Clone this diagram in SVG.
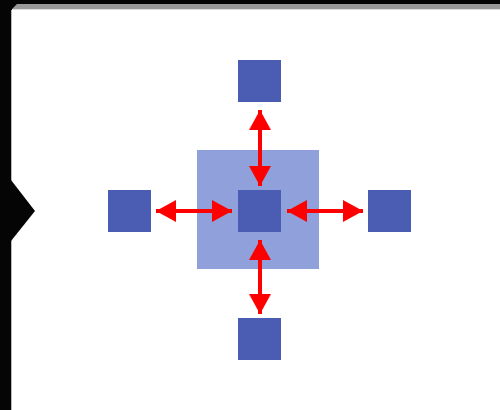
<svg xmlns="http://www.w3.org/2000/svg" width="500" height="410" viewBox="0 0 500 410">
<style>
.dark{fill:#4a5db3}
.light{fill:#8fa0da}
.conn{stroke:#ff0000;stroke-width:4;fill:none}
</style>
<defs>
<marker id="ah" viewBox="0 0 20 22" refX="20" refY="11" markerWidth="20" markerHeight="22" markerUnits="userSpaceOnUse" orient="auto-start-reverse">
<path d="M0,0 L20,11 L0,22 Z" fill="#ff0000"/>
</marker>
</defs>
<rect width="500" height="410" fill="#ffffff"/>
<g id="frame">
<rect x="0" y="0" width="500" height="10" fill="#050505"/>
<polygon points="17,4 500,4 500,9 12,9" fill="#999999"/>
<rect x="12" y="9" width="488" height="1" fill="#dddddd"/>
<rect x="0" y="0" width="11" height="410" fill="#050505"/>
<rect x="11" y="10" width="1" height="400" fill="#bbbbbb"/>
<polygon points="11,180 35,211 11,241" fill="#050505"/>
</g>
<g id="group-center"><rect class="light" x="197" y="150" width="122" height="119"/></g>
<g id="node-center"><rect class="dark" x="238" y="190" width="43" height="42"/></g>
<g id="node-top"><rect class="dark" x="238" y="60" width="43" height="42"/></g>
<g id="node-left"><rect class="dark" x="108" y="190" width="43" height="42"/></g>
<g id="node-right"><rect class="dark" x="368" y="190" width="43" height="42"/></g>
<g id="node-bottom"><rect class="dark" x="238" y="318" width="43" height="42"/></g>
<g id="connectors">
<line class="conn" x1="260" y1="110" x2="260" y2="186" marker-start="url(#ah)" marker-end="url(#ah)"/>
<line class="conn" x1="260" y1="240" x2="260" y2="314" marker-start="url(#ah)" marker-end="url(#ah)"/>
<line class="conn" x1="156" y1="211" x2="232" y2="211" marker-start="url(#ah)" marker-end="url(#ah)"/>
<line class="conn" x1="287" y1="211" x2="363" y2="211" marker-start="url(#ah)" marker-end="url(#ah)"/>
</g>
</svg>
